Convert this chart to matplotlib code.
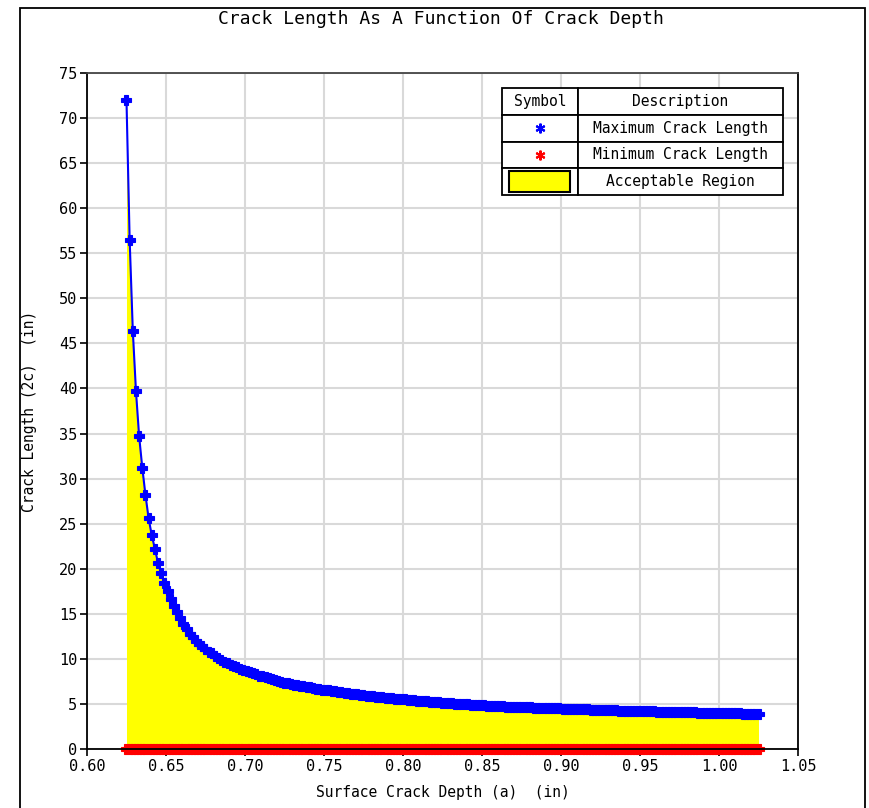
import numpy as np
import matplotlib
matplotlib.use('Agg')
import matplotlib.pyplot as plt
from matplotlib.patches import Rectangle

max_len = [72.0, 56.5, 46.4, 39.7, 34.7, 31.2, 28.2, 25.6, 23.7, 22.2,
           20.6, 19.5, 18.4, 17.5, 16.6, 15.9, 15.2, 14.5, 13.9, 13.3,
           12.8, 12.4, 12.0, 11.7, 11.4, 11.1, 10.8, 10.6, 10.3, 10.1,
           9.9, 9.7, 9.5, 9.35, 9.2, 9.05, 8.9, 8.8,
           8.65, 8.5, 8.4, 8.3, 8.15, 8.05, 7.95, 7.85, 7.75, 7.65, 7.55, 7.45, 7.38,
           7.3, 7.22, 7.15, 7.08, 7.02, 6.95, 6.89, 6.83, 6.77, 6.71, 6.65, 6.6,
           6.55, 6.5, 6.45, 6.4, 6.35, 6.3, 6.25, 6.2, 6.15, 6.1, 6.05, 6.0, 5.96,
           5.92, 5.88, 5.84, 5.8, 5.76, 5.72, 5.69, 5.66, 5.62, 5.59, 5.56, 5.53,
           5.5, 5.47, 5.44, 5.41, 5.38, 5.35, 5.32, 5.29, 5.26, 5.23, 5.2, 5.17, 5.15,
           5.12, 5.09, 5.07, 5.04, 5.02, 4.99, 4.97, 4.94, 4.92, 4.9, 4.87, 4.85,
           4.83, 4.81, 4.79, 4.77, 4.75, 4.74, 4.72, 4.71, 4.7, 4.68, 4.67, 4.66, 4.65,
           4.63, 4.62, 4.61, 4.6, 4.58, 4.57, 4.56, 4.55, 4.54, 4.53, 4.52, 4.51,
           4.49, 4.48, 4.46, 4.45, 4.44, 4.43, 4.41, 4.4, 4.39, 4.38, 4.37, 4.35, 4.34,
           4.33, 4.32, 4.31, 4.3, 4.28, 4.27, 4.26, 4.25, 4.24, 4.23, 4.22, 4.21,
           4.2, 4.19, 4.18, 4.18, 4.17, 4.16, 4.15, 4.14, 4.13, 4.12, 4.12, 4.11, 4.1,
           4.09, 4.08, 4.08, 4.07, 4.06, 4.05, 4.05, 4.04, 4.03, 4.02, 4.02, 4.01,
           4.0, 3.99, 3.98, 3.98, 3.97, 3.96, 3.95, 3.9, 3.88, 3.87, 3.86, 3.85, 3.84]
depth_start, depth_end = 0.625, 1.025
depth = np.linspace(depth_start, depth_end, len(max_len))
min_len = [0.0] * len(max_len)

x_ticks = [0.60, 0.65, 0.70, 0.75, 0.80, 0.85, 0.90, 0.95, 1.00, 1.05]
y_ticks = list(range(0, 80, 5))
legend_rows = [['Symbol', 'Description'],
               ['', 'Maximum Crack Length'],
               ['', 'Minimum Crack Length'],
               ['', 'Acceptable Region']]

mono = 'DejaVu Sans Mono'
fig = plt.figure(figsize=(8.69, 8.08), dpi=100)
ax = fig.add_axes([0.1001, 0.0730, 0.8182, 0.8366])

ax.fill_between(depth, 0, max_len, color='#ffff00', lw=0, zorder=2)
ax.plot(depth, max_len, color='blue', lw=1.5, marker='P', ms=7, mew=0.8, zorder=4)
ax.plot(depth, min_len, color='red', lw=1.5, marker='P', ms=7, mew=0.8, zorder=4, clip_on=False)

ax.set_xlim(0.60, 1.05)
ax.set_ylim(0, 75)
ax.set_xticks(x_ticks)
ax.set_xticklabels(['%.2f' % v for v in x_ticks], fontfamily=mono, fontsize=11)
ax.set_yticks(y_ticks)
ax.set_yticklabels([str(v) for v in y_ticks], fontfamily=mono, fontsize=11)
ax.tick_params(direction='out', length=5, width=1.2, colors='black', pad=2)
ax.grid(True, color='#d9d9d9', lw=1.5, zorder=1)
ax.set_axisbelow(True)
for s in ax.spines.values():
    s.set_linewidth(1.3)
    s.set_color('black')
    s.set_zorder(6)
ax.spines['top'].set_color('#444444')

ax.set_xlabel('Surface Crack Depth (a)  (in)', fontfamily=mono, fontsize=10.5, labelpad=8)
ax.set_ylabel('Crack Length (2c)  (in)', fontfamily=mono, fontsize=10.5, labelpad=16)
fig.text(0.5075, 0.977, 'Crack Length As A Function Of Crack Depth', ha='center', va='center',
         fontfamily=mono, fontsize=13)

# outer frame
fig.patches.append(Rectangle((0.023, -0.02), 0.972, 1.01, transform=fig.transFigure,
                             fill=False, ec='black', lw=1.3))

# legend drawn as a table
tab = ax.table(cellText=legend_rows, colWidths=[0.27, 0.73], cellLoc='center',
               bbox=[0.5837, 0.8195, 0.3953, 0.1583])
tab.auto_set_font_size(False)
for (r, c), cell in tab.get_celld().items():
    cell.set_linewidth(1.3)
    cell.set_edgecolor('black')
    cell.set_facecolor('white')
    cell.get_text().set_fontfamily(mono)
    cell.get_text().set_fontsize(10.5)
tab.set_zorder(8)

row_h = 0.1583 / 4
sym_x = 0.5837 + 0.3953 * 0.27 / 2
ax.plot([sym_x], [0.8195 + row_h * 2.5], transform=ax.transAxes, marker=(6, 2, 0), ms=7,
        mew=1.5, color='blue', clip_on=False, zorder=9)
ax.plot([sym_x], [0.8195 + row_h * 1.5], transform=ax.transAxes, marker=(6, 2, 0), ms=7,
        mew=1.5, color='red', clip_on=False, zorder=9)
ax.add_patch(Rectangle((0.5935, 0.824), 0.0858, 0.031, transform=ax.transAxes,
                       fc='#ffff00', ec='black', lw=1.5, zorder=9, clip_on=False))

plt.savefig('out.png', dpi=100)
